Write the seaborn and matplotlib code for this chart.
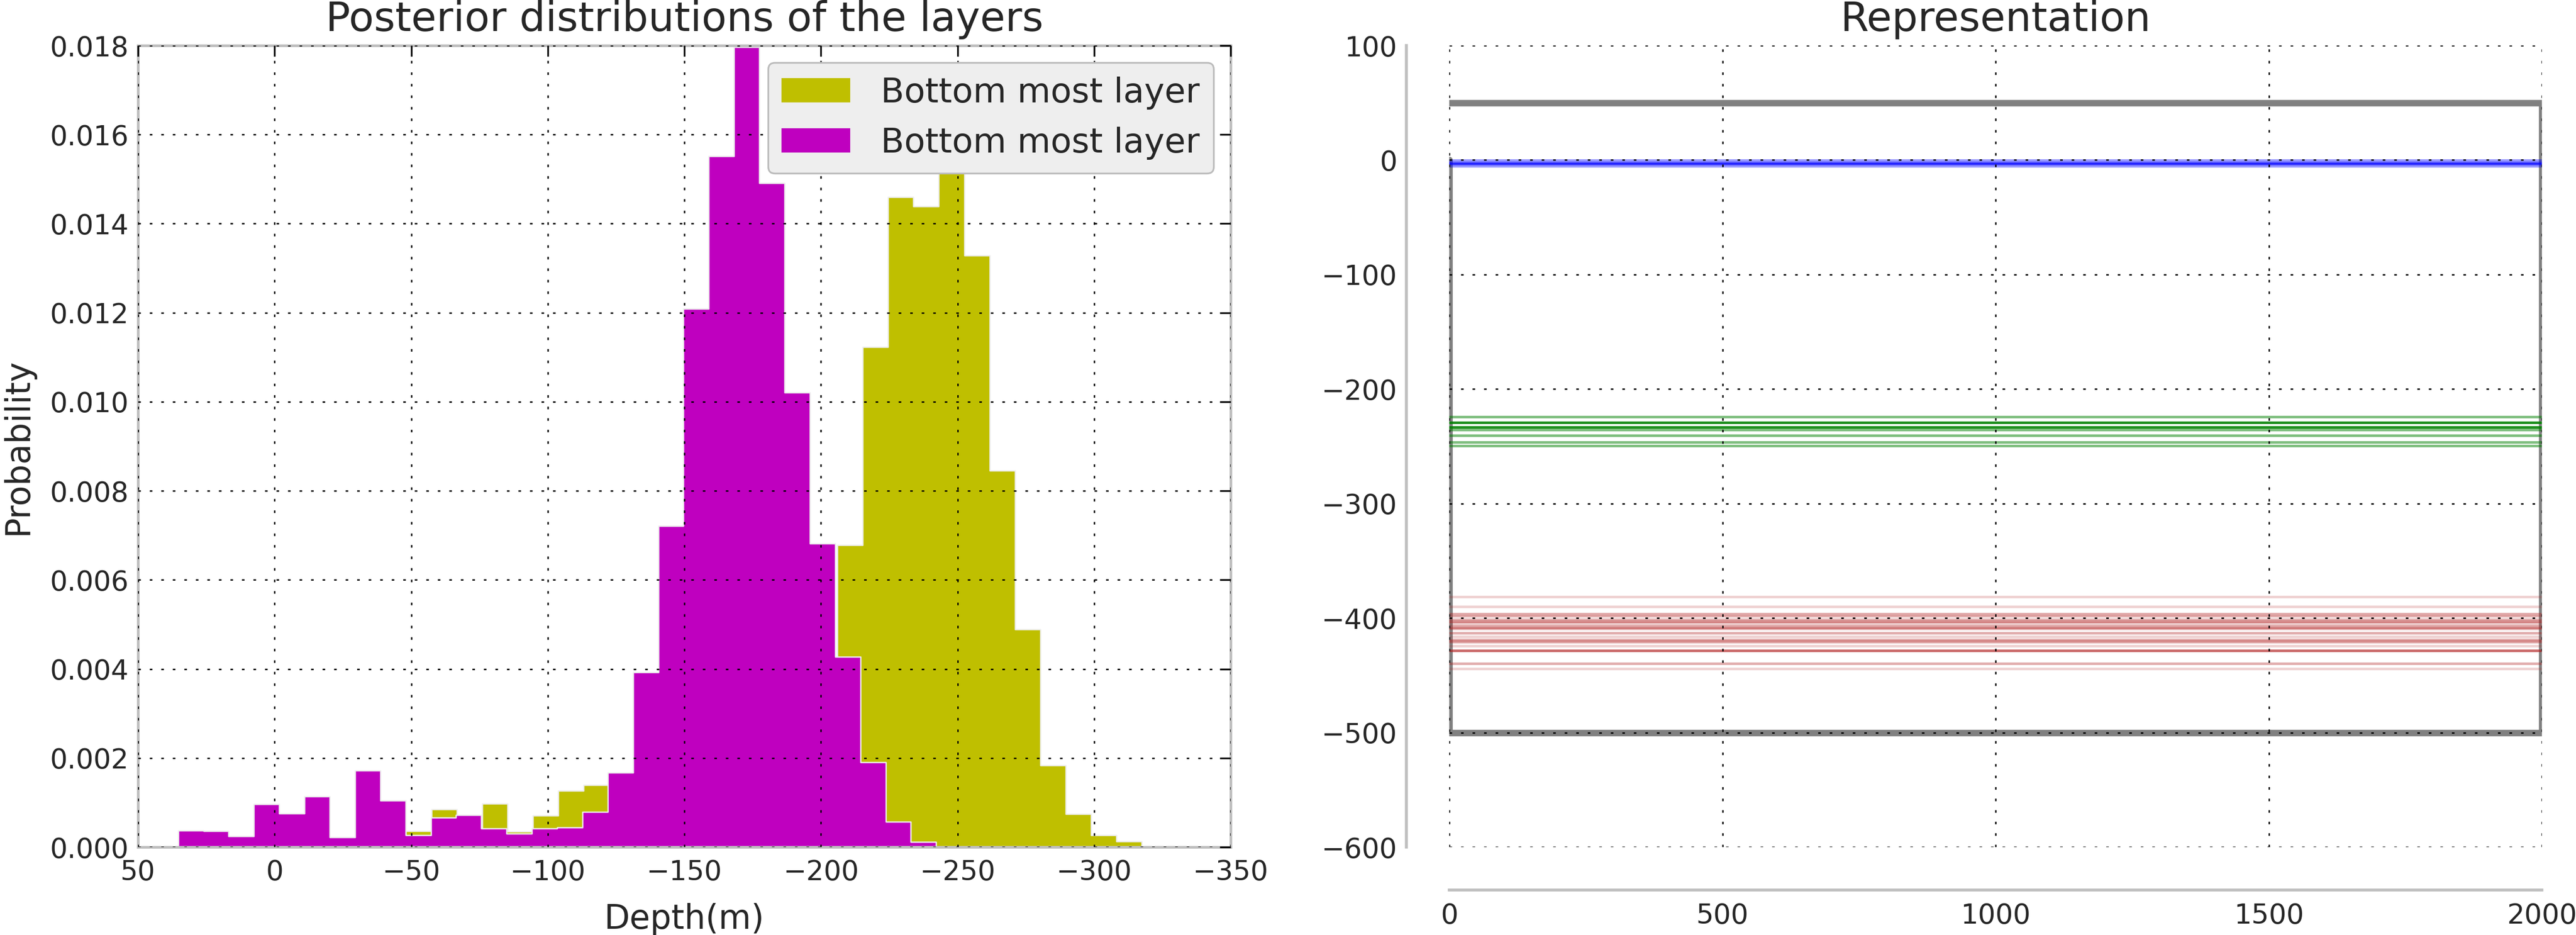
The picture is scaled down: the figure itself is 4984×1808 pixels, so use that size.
import numpy as np
import pandas as pd
import matplotlib
matplotlib.use("Agg")
import matplotlib.pyplot as plt
from matplotlib.patches import Patch
from matplotlib.ticker import FormatStrFormatter
import seaborn as sns

# ---------------- data ----------------
# left panel: posterior histograms (bins listed from shallow to deep)
depth_ticks = [50, 0, -50, -100, -150, -200, -250, -300, -350]
prob_ticks = [0.000, 0.002, 0.004, 0.006, 0.008, 0.010, 0.012, 0.014, 0.016, 0.018]

yellow_bin_range = (-38.8, -317.5)
yellow_probs = [0.00010, 0.00036, 0.00085, 0.00040, 0.00097, 0.00035, 0.00071, 0.00127,
                0.00139, 0.00130, 0.00160, 0.00200, 0.00240, 0.00260, 0.00300, 0.00340,
                0.00380, 0.00410, 0.00678, 0.01123, 0.01460, 0.01439, 0.01580, 0.01329,
                0.00846, 0.00489, 0.00184, 0.00074, 0.00027, 0.00013]

magenta_bin_range = (35.3, -242.2)
magenta_probs = [0.00037, 0.00036, 0.00024, 0.00096, 0.00075, 0.00114, 0.00022, 0.00172,
                 0.00105, 0.00027, 0.00066, 0.00072, 0.00042, 0.00030, 0.00042, 0.00044,
                 0.00079, 0.00167, 0.00392, 0.00721, 0.01209, 0.01552, 0.01796, 0.01491,
                 0.01021, 0.00682, 0.00427, 0.00190, 0.00057, 0.00012]

series_labels = ["Bottom most layer", "Bottom most layer"]
series_colors = ["#bfbf00", "#bf00bf"]

# right panel: representation
rep_x_ticks = [0, 500, 1000, 1500, 2000]
rep_y_ticks = [-600, -500, -400, -300, -200, -100, 0, 100]
model_x_extent = [0, 2000]
model_outline_x = [0, 0, 2000, 2000, 0]
model_outline_y = [0, -500, -500, 50, 50]

blue_depths = [-0.3, -2.1, -3.0, -3.0, -3.6, -5.1]
green_depths = [-224.1, -229.1, -229.1, -229.1, -233.5, -233.5, -233.5, -235.5,
                -240.3, -246.5, -249.5]
red_depths = [-381.6, -389.8, -396.2, -396.2, -398.3, -398.3, -401.4, -401.4,
              -402.9, -402.9, -402.9, -404.4, -406.9, -406.9, -408.3,
              -408.3, -408.3, -409.5, -413.1, -413.1, -416.4, -418.7, -418.7,
              -420.2, -420.2, -421.2, -424.3, -428.6, -428.6, -428.6,
              -428.6, -428.6, -439.9, -439.9, -444.3]

# ---------------- style ----------------
sns.set_theme(style="white")
plt.rcParams["font.family"] = ["DejaVu Sans"]
plt.rcParams["lines.scale_dashes"] = False
plt.rcParams["axes.unicode_minus"] = True

TICK_FS = 12.8
LABEL_FS = 15.5
TITLE_FS = 19
LEGEND_FS = 15.9
SPINE_COLOR = "#bfbfbf"
GRID_LS = (0, (1.2, 4.15))
GRID_LW = 0.65

W, H = 4984, 1808
fig = plt.figure(figsize=(W / 300, H / 300), dpi=300)
ax1 = fig.add_axes([267 / W, 1 - 1638 / H, 2114 / W, 1550 / H])
ax2 = fig.add_axes([2804 / W, 1 - 1638 / H, 2114 / W, 1550 / H])

# ---------------- left panel ----------------
def hist_layer(ax, bin_range, probs, color):
    edges = np.linspace(bin_range[0], bin_range[1], len(probs) + 1)
    centers = (edges[:-1] + edges[1:]) / 2
    df = pd.DataFrame({"depth": centers, "prob": np.asarray(probs, dtype=float)})
    sns.histplot(data=df, x="depth", weights="prob", bins=list(np.sort(edges)),
                 element="step", fill=True, stat="count", color=color, alpha=1,
                 edgecolor="#eeeeee", linewidth=0.6, ax=ax)

hist_layer(ax1, yellow_bin_range, yellow_probs, series_colors[0])
hist_layer(ax1, magenta_bin_range, magenta_probs, series_colors[1])

ax1.set_xlim(depth_ticks[0], depth_ticks[-1])
ax1.set_ylim(prob_ticks[0], prob_ticks[-1])
ax1.set_xticks(depth_ticks)
ax1.set_yticks(prob_ticks)
ax1.yaxis.set_major_formatter(FormatStrFormatter("%.3f"))
ax1.set_axisbelow(False)
ax1.grid(True, color="black", linestyle=GRID_LS, linewidth=GRID_LW)
for s in ax1.spines.values():
    s.set_visible(True)
    s.set_color(SPINE_COLOR)
    s.set_linewidth(1.25)
ax1.tick_params(axis="both", direction="in", length=5, width=0.8, color="black",
                top=True, right=True, labelsize=TICK_FS)
ax1.tick_params(axis="x", pad=5.6)
ax1.tick_params(axis="y", pad=4.2)
ax1.set_xlabel("Depth(m)", fontsize=LABEL_FS)
ax1.set_ylabel("Probability", fontsize=LABEL_FS)
ax1.xaxis.set_label_coords(0.5, -0.0697)
ax1.yaxis.set_label_coords(-0.0946, 0.5)
ax1.set_title("Posterior distributions of the layers", fontsize=TITLE_FS, pad=6.7)

handles = [Patch(facecolor=c, edgecolor="none", label=l)
           for c, l in zip(series_colors, series_labels)]
leg = ax1.legend(handles=handles, loc="upper right", fontsize=LEGEND_FS,
                 frameon=True, fancybox=True, facecolor="#eeeeee",
                 edgecolor="#bcbcbc", framealpha=1, handletextpad=0.9)
leg.get_frame().set_linewidth(0.8)

# ---------------- right panel ----------------
outline = pd.DataFrame({"x": model_outline_x, "y": model_outline_y})
sns.lineplot(data=outline, x="x", y="y", sort=False, estimator=None,
             color="gray", linewidth=3, ax=ax2)

def depth_lines(ax, depths, color, alpha):
    df = pd.DataFrame({
        "x": np.tile(model_x_extent, len(depths)),
        "depth": np.repeat(depths, 2),
        "line": np.repeat(np.arange(len(depths)), 2),
    })
    sns.lineplot(data=df, x="x", y="depth", units="line", estimator=None,
                 color=color, alpha=alpha, linewidth=1.2, ax=ax, legend=False)

depth_lines(ax2, blue_depths, "blue", 0.4)
depth_lines(ax2, green_depths, "green", 0.5)
depth_lines(ax2, red_depths, "firebrick", 0.2)

ax2.set_xlim(rep_x_ticks[0], rep_x_ticks[-1])
ax2.set_ylim(rep_y_ticks[0], rep_y_ticks[-1])
ax2.set_xticks(rep_x_ticks)
ax2.set_yticks(rep_y_ticks)
ax2.set_xlabel("")
ax2.set_ylabel("")
ax2.set_axisbelow(False)
ax2.grid(True, color="black", linestyle=GRID_LS, linewidth=GRID_LW)
sns.despine(ax=ax2, offset=20, trim=True)
for side in ["left", "bottom"]:
    ax2.spines[side].set_color(SPINE_COLOR)
    ax2.spines[side].set_linewidth(1.35)
ax2.tick_params(axis="both", direction="in", length=5, width=0.8, color="black",
                top=False, right=False, labelsize=TICK_FS)
ax2.tick_params(axis="x", pad=5.6)
ax2.tick_params(axis="y", pad=4.2)
ax2.set_title("Representation", fontsize=TITLE_FS, pad=6.7)

fig.savefig("out.png", dpi=300)
